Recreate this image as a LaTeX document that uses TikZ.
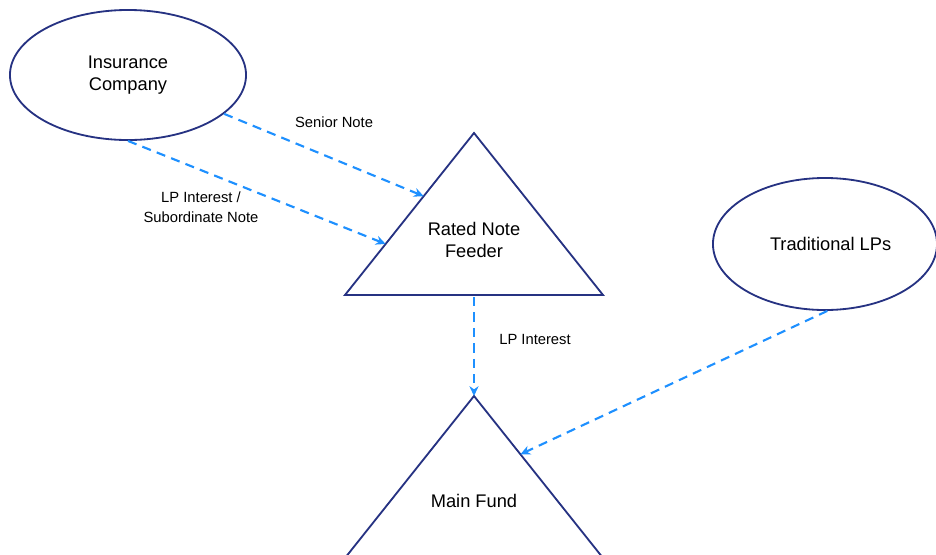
\documentclass[tikz,border=0pt]{standalone}
\usepackage{fontspec}
\setmainfont{Liberation Sans}
\usetikzlibrary{calc,shapes.geometric,arrows.meta}
\definecolor{navyline}{RGB}{38,50,130}
\definecolor{flowblue}{RGB}{30,144,255}
\tikzset{
	party/.style={draw=navyline, line width=1.3pt, ellipse, align=center, font=\fontsize{13}{16}\selectfont},
	fundtext/.style={align=center, font=\fontsize{13}{16}\selectfont},
	flowlabel/.style={align=center, font=\fontsize{10.5}{14}\selectfont},
	flow/.style={draw=flowblue, line width=1.5pt, dash pattern=on 6.5pt off 4.5pt, -{Stealth[length=7pt,width=6.5pt]}},
	fundline/.style={draw=navyline, line width=1.3pt, line join=miter}
}

\begin{document}
\begin{tikzpicture}[x=0.025cm, y=-0.025cm]
		%%%%% START %%%%%
		\useasboundingbox (0, 0) rectangle (936, 554);
		\clip (0, 0) rectangle (936, 554);
		
		% parties
		\node[party, minimum width=5.9cm, minimum height=3.25cm] (insurer) at (128, 75) {Insurance\\Company};
		\node[party, minimum width=5.6cm, minimum height=3.3cm] (tradlps) at (825, 244) {\hspace*{8pt}Traditional LPs};
		
		% rated note feeder
		\coordinate (feederTop) at (474, 133);
		\coordinate (feederLeft) at (345, 295);
		\coordinate (feederRight) at (603, 295);
		\draw[fundline] (feederTop) -- (feederLeft) -- (feederRight) -- cycle;
		\node[fundtext] (feeder) at (474, 240) {Rated Note\\Feeder};
		\coordinate (feederBase) at (474, 297);
		
		% main fund
		\coordinate (mainTop) at (474, 396);
		\coordinate (mainLeft) at (345, 558);
		\coordinate (mainRight) at (603, 558);
		\draw[fundline] (mainTop) -- (mainLeft) -- (mainRight) -- cycle;
		\node[fundtext] (mainfund) at (474, 501) {Main Fund};
		
		% flows
		\coordinate (seniorEnd) at ($(feederTop)!0.39!(feederLeft)$);
		\coordinate (subEnd) at ($(feederTop)!0.685!(feederLeft)$);
		\coordinate (tradEnd) at ($(mainTop)!0.36!(mainRight)$);
		
		\draw[flow] (insurer.-22) -- (seniorEnd);
		\draw[flow] (insurer.-90) -- (subEnd);
		\draw[flow] (feederBase) -- (mainTop);
		\draw[flow] (tradlps.-88) -- (tradEnd);
		
		\node[flowlabel] (seniorlbl) at (334, 122) {Senior Note};
		\node[flowlabel] (sublbl) at (201, 207) {LP Interest /\\Subordinate Note};
		\node[flowlabel] (lplbl) at (535, 339) {LP Interest};
		
		%%%%% END %%%%%
\end{tikzpicture}
\end{document}
